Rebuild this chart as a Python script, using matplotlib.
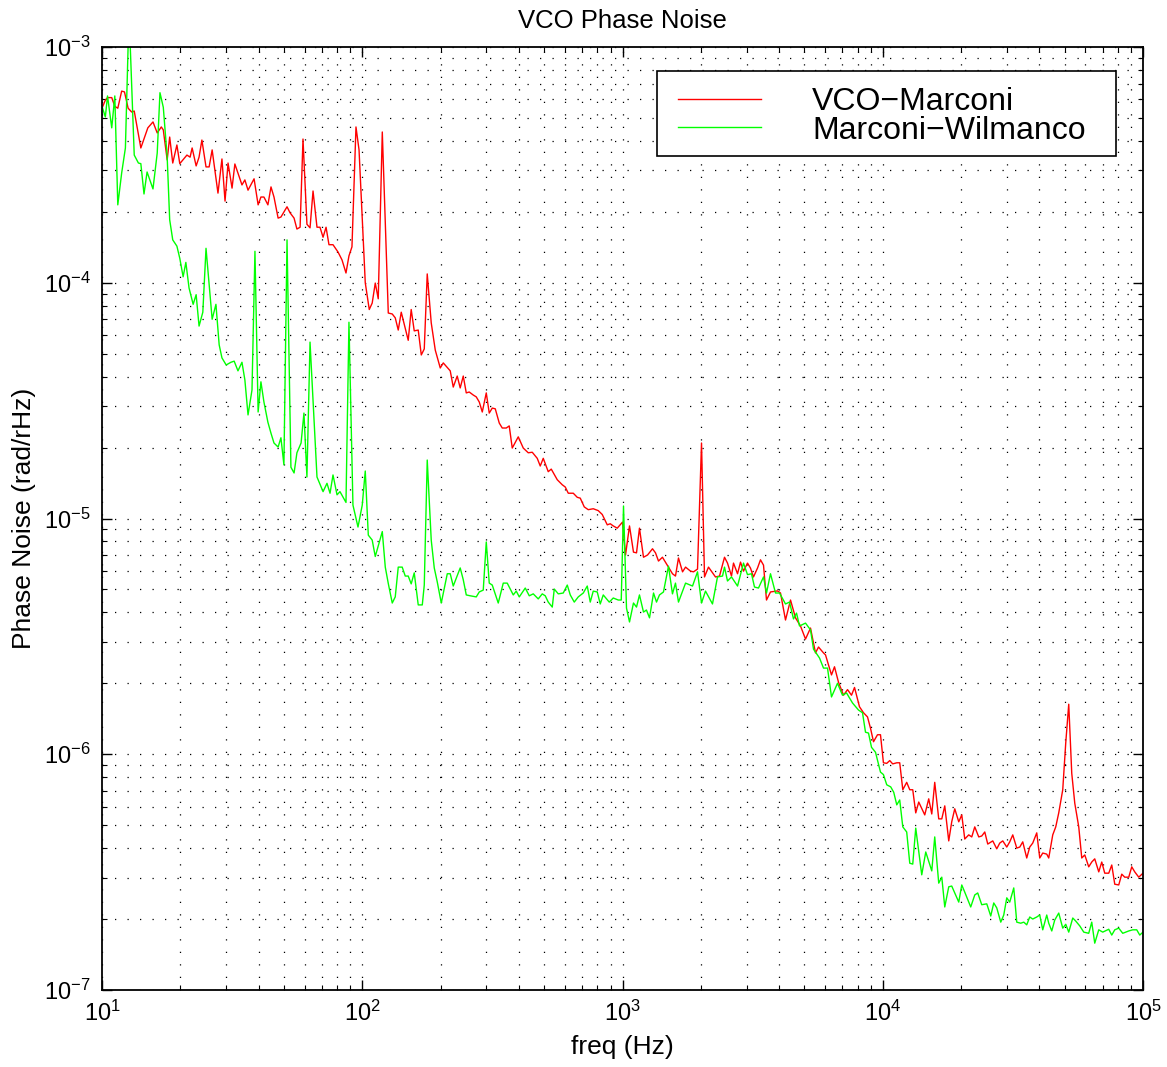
import numpy as np
import matplotlib
matplotlib.use('Agg')
import matplotlib.pyplot as plt
from matplotlib.patches import Rectangle

plt.rcParams['font.family'] = ['Liberation Sans', 'DejaVu Sans']
plt.rcParams['mathtext.fontset'] = 'custom'
plt.rcParams['mathtext.rm'] = 'Liberation Sans'
plt.rcParams['mathtext.default'] = 'regular'

# VCO-Marconi (red)
red_freq = [
    10.0, 10.3, 10.5, 10.9, 11.2, 11.5, 11.9, 12.2, 12.6, 13.0,
    13.3, 14.1, 15.0, 15.7, 16.3, 16.9, 17.2, 17.8, 18.2, 18.7,
    19.4, 19.9, 21.2, 21.8, 22.2, 23.0, 23.6, 24.2, 25.1, 25.8,
    26.5, 27.9, 28.9, 29.7, 30.5, 31.6, 32.4, 34.5, 35.4, 36.4,
    38.4, 39.8, 40.8, 41.9, 43.4, 44.6, 45.8, 47.5, 48.7, 51.4,
    52.8, 54.7, 56.1, 57.7, 59.2, 61.3, 63.0, 64.7, 67.0, 68.8,
    70.7, 72.6, 74.5, 77.2, 80.7, 83.6, 86.6, 88.9, 91.3, 94.6,
    97.2, 102.7, 106.4, 109.2, 112.2, 115.2, 119.4, 125.9, 130.4, 133.9,
    137.5, 141.2, 150.2, 154.2, 158.4, 164.1, 168.6, 173.1, 177.7, 184.1,
    190.8, 199.4, 204.8, 217.8, 223.7, 231.7, 237.9, 244.4, 251.0, 257.7,
    267.0, 274.2, 281.6, 289.2, 299.6, 307.6, 315.9, 324.4, 336.1, 345.1,
    357.5, 367.1, 377.0, 397.6, 415.6, 434.4, 450.0, 470.3, 483.0, 496.0,
    518.4, 532.4, 561.5, 586.9, 602.6, 618.9, 646.9, 670.1, 688.2, 712.9,
    738.6, 772.0, 806.9, 836.0, 873.8, 897.3, 921.5, 954.6, 1000, 1027,
    1064, 1102, 1132, 1162, 1204, 1248, 1304, 1339, 1375, 1424,
    1502, 1556, 1598, 1641, 1701, 1747, 1825, 1874, 1942, 2012,
    2066, 2140, 2277, 2359, 2466, 2532, 2623, 2670, 2767, 2841,
    2917, 3022, 3103, 3186, 3302, 3390, 3482, 3575, 3704, 3941,
    4047, 4230, 4422, 4621, 4830, 5049, 5277, 5516, 5665, 5921,
    6026, 6354, 6525, 6761, 7067, 7322, 7585, 7790, 8140, 8433,
    8738, 8972, 9215, 9546, 9802, 10060, 10360, 10640, 10920, 11320,
    11620, 11940, 12360, 12700, 13040, 13390, 13750, 14500, 15020, 15430,
    15840, 16410, 16860, 17310, 17930, 18410, 18910, 19590, 20120, 20660,
    21400, 21980, 22570, 23380, 24010, 24660, 25320, 26470, 27420, 28160,
    28920, 29960, 30760, 31590, 32730, 33610, 34510, 35750, 36710, 37700,
    39060, 40110, 41190, 42670, 43430, 45000, 46210, 47450, 49160, 50490,
    51840, 53240, 54680, 56640, 58170, 59740, 61870, 63540, 65250, 67610,
    69420, 71290, 73860, 75850, 77890, 80690, 82860, 85090, 88150, 90530,
    92960, 96320, 100000,
]
red_noise = [
    5.5e-4, 5.95e-4, 6.1e-4, 6.1e-4, 5.6e-4, 5.5e-4, 6.5e-4, 6.45e-4, 5.5e-4, 5.3e-4,
    5.35e-4, 3.73e-4, 4.54e-4, 4.81e-4, 4.32e-4, 4.58e-4, 4.45e-4, 3.32e-4, 4.15e-4, 3.22e-4,
    3.84e-4, 3.2e-4, 3.48e-4, 3.41e-4, 3.73e-4, 3.13e-4, 3.41e-4, 4.03e-4, 3.1e-4, 3.1e-4,
    3.66e-4, 2.4e-4, 3.35e-4, 2.22e-4, 3.22e-4, 2.52e-4, 3.19e-4, 2.6e-4, 2.73e-4, 2.47e-4,
    2.76e-4, 2.14e-4, 2.31e-4, 2.31e-4, 2.14e-4, 2.55e-4, 2.31e-4, 1.88e-4, 1.9e-4, 2.1e-4,
    1.98e-4, 1.88e-4, 1.69e-4, 1.72e-4, 4.07e-4, 1.77e-4, 1.71e-4, 2.45e-4, 1.72e-4, 1.72e-4,
    1.56e-4, 1.72e-4, 1.45e-4, 1.45e-4, 1.35e-4, 1.25e-4, 1.1e-4, 1.3e-4, 1.42e-4, 4.58e-4,
    3.66e-4, 1.0e-4, 7.7e-5, 8.2e-5, 9.97e-5, 8.55e-5, 4.36e-4, 7.44e-5, 7.37e-5, 7.1e-5,
    6.3e-5, 7.5e-5, 5.7e-5, 7.7e-5, 6.25e-5, 6.3e-5, 4.94e-5, 5.24e-5, 1.09e-4, 6.76e-5,
    5.18e-5, 4.35e-5, 4.57e-5, 4.23e-5, 3.61e-5, 4.02e-5, 3.58e-5, 4.02e-5, 3.41e-5, 3.44e-5,
    3.34e-5, 3.28e-5, 3.12e-5, 2.83e-5, 3.41e-5, 2.8e-5, 2.94e-5, 2.92e-5, 2.54e-5, 2.42e-5,
    2.42e-5, 2.47e-5, 1.99e-5, 2.22e-5, 1.99e-5, 1.9e-5, 1.91e-5, 1.8e-5, 1.67e-5, 1.8e-5,
    1.58e-5, 1.62e-5, 1.46e-5, 1.39e-5, 1.36e-5, 1.28e-5, 1.28e-5, 1.23e-5, 1.22e-5, 1.12e-5,
    1.09e-5, 1.1e-5, 1.08e-5, 1.04e-5, 9.4e-6, 9.5e-6, 9.3e-6, 9.1e-6, 9.65e-6, 7.0e-6,
    9.3e-6, 7.2e-6, 7.15e-6, 9.1e-6, 6.85e-6, 7.0e-6, 7.44e-6, 7.15e-6, 6.6e-6, 6.85e-6,
    6.22e-6, 5.83e-6, 5.7e-6, 6.8e-6, 5.94e-6, 6.22e-6, 5.98e-6, 5.94e-6, 6.1e-6, 2.09e-5,
    5.65e-6, 6.22e-6, 5.65e-6, 5.7e-6, 6.85e-6, 6.47e-6, 5.7e-6, 6.47e-6, 5.83e-6, 6.53e-6,
    5.98e-6, 6.47e-6, 6.16e-6, 5.65e-6, 6.16e-6, 6.68e-6, 6.34e-6, 4.51e-6, 4.88e-6, 4.93e-6,
    4.83e-6, 3.71e-6, 4.51e-6, 3.79e-6, 3.5e-6, 3.08e-6, 3.43e-6, 2.69e-6, 2.85e-6, 2.69e-6,
    2.64e-6, 2.17e-6, 2.35e-6, 2.02e-6, 1.78e-6, 1.88e-6, 1.78e-6, 1.92e-6, 1.59e-6, 1.5e-6,
    1.44e-6, 1.29e-6, 1.13e-6, 1.21e-6, 1.21e-6, 9.2e-7, 9.15e-7, 9.4e-7, 9.1e-7, 9.2e-7,
    9.2e-7, 7.07e-7, 7.6e-7, 7.07e-7, 7.07e-7, 5.64e-7, 6.27e-7, 5.53e-7, 6.47e-7, 5.58e-7,
    7.6e-7, 5.32e-7, 5.32e-7, 6.04e-7, 4.29e-7, 5.17e-7, 5.87e-7, 5.17e-7, 5.53e-7, 4.37e-7,
    4.55e-7, 4.46e-7, 4.92e-7, 4.46e-7, 4.5e-7, 4.68e-7, 4.16e-7, 4.29e-7, 3.97e-7, 4.2e-7,
    4.29e-7, 4.04e-7, 4.25e-7, 4.55e-7, 4.0e-7, 4.04e-7, 4.25e-7, 3.63e-7, 4.04e-7, 4.2e-7,
    4.64e-7, 3.63e-7, 3.81e-7, 3.77e-7, 3.63e-7, 4.55e-7, 4.92e-7, 5.64e-7, 7.07e-7, 1.12e-6,
    1.63e-6, 8.3e-7, 6.2e-7, 4.92e-7, 3.63e-7, 3.74e-7, 3.33e-7, 3.49e-7, 3.6e-7, 3.17e-7,
    3.49e-7, 3.13e-7, 3.13e-7, 3.39e-7, 2.81e-7, 2.79e-7, 3.1e-7, 3.01e-7, 3.01e-7, 3.33e-7,
    3.17e-7, 3.01e-7, 3.13e-7,
]

# Marconi-Wilmanco (green)
green_freq = [
    10.0, 10.3, 10.5, 10.9, 11.2, 11.5, 11.9, 12.3, 12.7, 13.3,
    13.8, 14.1, 14.5, 14.9, 15.7, 16.3, 16.7, 17.2, 17.8, 18.2,
    18.7, 19.4, 19.9, 20.5, 21.0, 21.6, 22.4, 23.0, 23.6, 24.4,
    25.1, 26.5, 27.4, 28.2, 28.9, 30.0, 31.3, 32.2, 33.3, 34.5,
    35.4, 36.4, 37.7, 38.7, 39.8, 40.8, 41.9, 43.4, 44.6, 45.8,
    47.5, 48.7, 50.0, 51.4, 53.2, 54.7, 56.1, 58.2, 59.7, 61.3,
    63.0, 67.0, 70.7, 73.2, 75.2, 77.2, 80.0, 82.1, 86.6, 88.9,
    92.1, 96.3, 100.0, 102.7, 105.5, 109.2, 112.2, 119.4, 122.6, 125.9,
    130.4, 133.9, 137.5, 142.4, 146.3, 150.2, 154.2, 158.4, 164.1, 170.1,
    173.1, 177.7, 184.1, 189.1, 194.2, 201.2, 212.2, 217.8, 223.7, 237.9,
    244.4, 251.0, 260.0, 274.2, 281.6, 291.7, 299.6, 307.6, 315.9, 333.1,
    348.2, 360.7, 370.4, 380.4, 390.6, 401.2, 423.0, 438.3, 454.0, 474.5,
    491.6, 504.9, 518.4, 537.2, 546.8, 566.5, 592.1, 613.4, 629.9, 652.6,
    676.1, 706.7, 732.1, 751.8, 772.0, 799.8, 821.3, 843.4, 889.3, 921.5,
    963.2, 989.0, 1009, 1036, 1064, 1102, 1132, 1162, 1204, 1236,
    1270, 1316, 1351, 1387, 1437, 1502, 1556, 1598, 1641, 1747,
    1858, 1942, 2012, 2084, 2217, 2317, 2423, 2466, 2532, 2623,
    2767, 2917, 3022, 3131, 3215, 3331, 3482, 3575, 3704, 3872,
    4011, 4230, 4383, 4540, 4663, 4788, 5049, 5277, 5420, 5715,
    5921, 6134, 6354, 6701, 7004, 7257, 7653, 8069, 8360, 8585,
    8815, 9054, 9378, 9802, 10060, 10360, 10730, 11020, 11320, 11620,
    11940, 12360, 12700, 13040, 13390, 14120, 14630, 15430, 15840, 16410,
    16860, 17310, 17930, 18410, 19590, 20120, 20660, 21780, 22570, 23170,
    24010, 25100, 26000, 26700, 27420, 28410, 29170, 29960, 30760, 31870,
    32730, 33900, 34820, 35750, 36710, 37700, 39060, 40110, 41190, 42670,
    43430, 44610, 45800, 47450, 49160, 50490, 51840, 53720, 55160, 57150,
    59210, 61870, 63540, 65250, 67610, 70040, 73860, 75850, 77890, 80690,
    83600, 88150, 91330, 94620, 97170, 100000,
]
green_noise = [
    5.6e-4, 5.05e-4, 6.2e-4, 4.54e-4, 6.2e-4, 2.14e-4, 2.92e-4, 3.73e-4, 1.4e-3, 3.48e-4,
    3.22e-4, 3.2e-4, 2.38e-4, 2.95e-4, 2.5e-4, 3.55e-4, 6.4e-4, 5.55e-4, 3.42e-4, 1.85e-4,
    1.52e-4, 1.43e-4, 1.27e-4, 1.06e-4, 1.22e-4, 9.5e-5, 8.1e-5, 8.9e-5, 6.55e-5, 7.5e-5,
    1.4e-4, 7.0e-5, 8.1e-5, 5.45e-5, 4.8e-5, 4.48e-5, 4.6e-5, 4.65e-5, 4.23e-5, 4.6e-5,
    3.87e-5, 2.75e-5, 3.51e-5, 1.36e-4, 2.83e-5, 3.8e-5, 3.12e-5, 2.56e-5, 2.3e-5, 2.09e-5,
    2.01e-5, 2.2e-5, 1.69e-5, 1.52e-4, 1.65e-5, 1.56e-5, 1.9e-5, 2.09e-5, 2.8e-5, 1.5e-5,
    5.6e-5, 1.5e-5, 1.3e-5, 1.41e-5, 1.28e-5, 1.53e-5, 1.26e-5, 1.3e-5, 1.17e-5, 6.8e-5,
    1.14e-5, 9.2e-6, 1.14e-5, 1.59e-5, 8.5e-6, 8.1e-6, 6.9e-6, 8.8e-6, 6.22e-6, 5.3e-6,
    4.38e-6, 4.65e-6, 6.22e-6, 6.22e-6, 5.7e-6, 5.7e-6, 5.28e-6, 5.88e-6, 4.3e-6, 4.3e-6,
    5.22e-6, 1.77e-5, 8.1e-6, 6.17e-6, 5.38e-6, 4.38e-6, 5.83e-6, 5.83e-6, 5.17e-6, 6.17e-6,
    5.5e-6, 4.74e-6, 4.7e-6, 4.65e-6, 4.88e-6, 4.97e-6, 7.95e-6, 5.32e-6, 5.22e-6, 4.38e-6,
    5.32e-6, 5.32e-6, 5.02e-6, 4.74e-6, 4.92e-6, 4.65e-6, 5.07e-6, 4.7e-6, 4.79e-6, 4.56e-6,
    4.79e-6, 4.7e-6, 4.42e-6, 4.21e-6, 5.02e-6, 4.79e-6, 4.83e-6, 5.22e-6, 4.74e-6, 4.42e-6,
    4.65e-6, 4.83e-6, 5.17e-6, 4.42e-6, 4.92e-6, 4.88e-6, 4.34e-6, 4.74e-6, 4.42e-6, 4.6e-6,
    4.51e-6, 4.51e-6, 1.13e-5, 4.17e-6, 3.64e-6, 4.38e-6, 4.21e-6, 4.74e-6, 4.01e-6, 4.09e-6,
    3.79e-6, 4.83e-6, 4.42e-6, 4.74e-6, 4.88e-6, 6.28e-6, 4.79e-6, 5.32e-6, 4.42e-6, 5.32e-6,
    5.17e-6, 5.94e-6, 4.38e-6, 4.92e-6, 4.34e-6, 5.65e-6, 5.7e-6, 6.22e-6, 5.43e-6, 5.65e-6,
    5.17e-6, 6.47e-6, 5.78e-6, 5.83e-6, 5.12e-6, 5.07e-6, 5.65e-6, 4.83e-6, 5.83e-6, 4.83e-6,
    4.83e-6, 4.34e-6, 4.42e-6, 3.75e-6, 3.97e-6, 3.5e-6, 3.6e-6, 3.37e-6, 2.79e-6, 2.56e-6,
    2.32e-6, 2.32e-6, 1.75e-6, 2.0e-6, 1.78e-6, 1.82e-6, 1.65e-6, 1.54e-6, 1.5e-6, 1.24e-6,
    1.23e-6, 1.07e-6, 1.02e-6, 8.4e-7, 8.2e-7, 7.42e-7, 7.27e-7, 6.9e-7, 6.1e-7, 6.4e-7,
    4.92e-7, 4.68e-7, 3.45e-7, 3.42e-7, 4.86e-7, 3.08e-7, 3.85e-7, 3.2e-7, 4.46e-7, 2.84e-7,
    3.01e-7, 2.25e-7, 2.74e-7, 2.76e-7, 2.36e-7, 2.79e-7, 2.6e-7, 2.25e-7, 2.53e-7, 2.58e-7,
    2.3e-7, 2.32e-7, 2.06e-7, 2.34e-7, 2.23e-7, 1.94e-7, 2.08e-7, 2.46e-7, 2.36e-7, 2.71e-7,
    1.94e-7, 1.92e-7, 1.94e-7, 1.89e-7, 2.04e-7, 2.0e-7, 2.04e-7, 2.08e-7, 1.8e-7, 2.08e-7,
    1.92e-7, 1.78e-7, 1.98e-7, 2.12e-7, 1.83e-7, 1.9e-7, 1.76e-7, 2.02e-7, 1.96e-7, 1.87e-7,
    1.76e-7, 1.74e-7, 1.94e-7, 1.58e-7, 1.8e-7, 1.76e-7, 1.81e-7, 1.71e-7, 1.8e-7, 1.83e-7,
    1.74e-7, 1.78e-7, 1.8e-7, 1.8e-7, 1.71e-7, 1.76e-7,
]

fig = plt.figure(figsize=(11.67, 10.67), dpi=100)
ax = fig.add_axes([102/1167, 1 - 990/1067, 1041/1167, 943/1067])

ax.loglog(red_freq, red_noise, color=(1, 0, 0), lw=1.0, label='VCO\u2212Marconi')
ax.loglog(green_freq, green_noise, color=(0, 1, 0), lw=1.0, label='Marconi\u2212Wilmanco')

ax.set_xlim(10, 1e5)
ax.set_ylim(1e-7, 1e-3)

ax.set_axisbelow(True)
ax.grid(True, which='both', color='k', lw=0.9, ls=(0, (1, 9)))
ax.tick_params(which='both', direction='in', top=True, right=True, labelsize=17, pad=8)
ax.tick_params(which='major', length=7, width=1.0)
ax.tick_params(which='minor', length=3.5, width=0.8)
for s in ax.spines.values():
    s.set_linewidth(1.3)

ax.set_title('VCO Phase Noise', fontsize=18.5, pad=14)
ax.set_xlabel('freq (Hz)', fontsize=19, labelpad=6)
ax.set_ylabel('Phase Noise (rad/rHz)', fontsize=19, labelpad=6)

# legend box drawn by hand (MATLAB style, wide padding)
box = Rectangle((0.5331, 0.8844), 0.4409, 0.0901, transform=ax.transAxes,
                facecolor='white', edgecolor='k', lw=1.2, zorder=4.5, clip_on=False)
ax.add_patch(box)
leg = ax.legend(loc='center left', bbox_to_anchor=(0.5533, 0.9263), borderaxespad=0,
                fontsize=23, handlelength=2.6, handletextpad=1.6, labelspacing=-0.06,
                borderpad=0, frameon=False)
leg.set_zorder(5)

fig.savefig('out.png', dpi=100)
